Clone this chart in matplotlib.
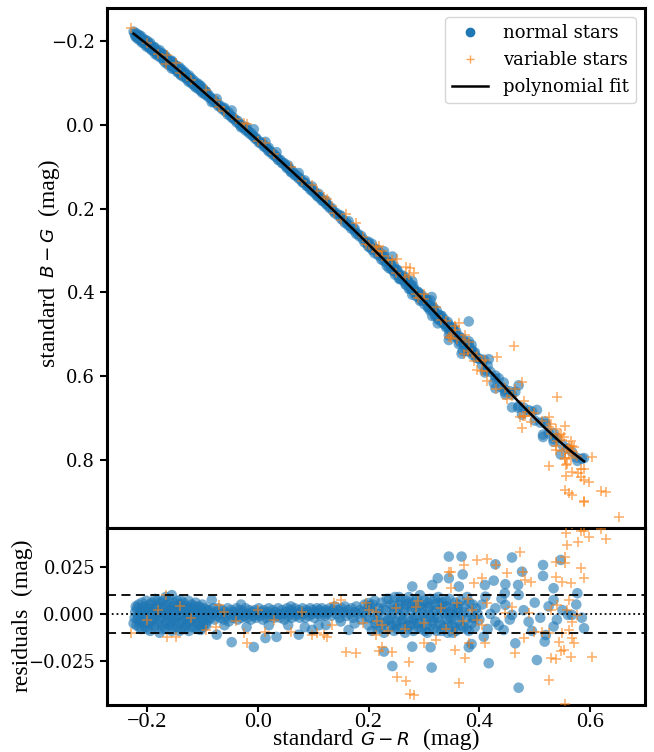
import numpy as np
import matplotlib
matplotlib.use("Agg")
import matplotlib.pyplot as plt
from matplotlib.lines import Line2D

# ---------------- data ----------------
# points (G-R, B-G)
fit_gr = [-0.224, -0.182, -0.128, -0.085, -0.037, -0.010, 0.044, 0.104, 0.164, 0.197,
          0.261, 0.321, 0.381, 0.411, 0.471, 0.526, 0.550, 0.568, 0.589]
fit_bg = [-0.215, -0.179, -0.115, -0.060, -0.004, 0.028, 0.084, 0.155, 0.235, 0.291,
          0.370, 0.449, 0.529, 0.577, 0.660, 0.728, 0.768, 0.788, 0.796]
fit_degree = 5

# normal stars: G-R (mmag) and residual B-G minus fit (mmag), by region
blue_a1_gr = [-224, -222, -221, -219, -218, -216, -215, -213, -212, -210,
              -209, -207, -206, -204, -203, -201, -200, -198, -197, -195,
              -194, -192, -191, -189, -188, -186, -185, -183, -182, -180,
              -179, -177, -176, -174, -173, -171, -170, -168, -167, -166,
              -164, -163, -161, -160, -158, -157, -155, -154, -152, -151,
              -149, -148, -146, -145, -143, -142, -140, -139, -137, -136,
              -134, -133, -131, -130, -128, -127, -125, -124, -122, -121,
              -119, -118, -116, -115, -113, -112, -110, -109, -107, -106,
              -104, -103, -101, -100, -98, -97, -95, -94, -92, -91,
              -89]
blue_a1_res = [-5, -2, 1, -6, 3, -1, 5, -4, 2, -8,
               6, 0, -3, 4, -7, 7, -1, 2, -5, 5,
               -9, 0, 6, -3, 3, -7, 8, -1, 4, -5,
               1, -10, 6, -2, 3, -6, 7, 0, -8, 9,
               -3, 5, -1, 8, -6, 2, -9, 4, -2, 6,
               -4, 1, -7, 7, -1, 3, -5, 5, -8, 0,
               6, -3, 2, -6, 4, -1, 7, -9, 1, -4,
               5, -2, 3, -7, 0, 6, -5, 2, -3, 4,
               -6, 1, -2, 5, -4, 0, 3, -5, -1, 2,
               -3]
blue_a2_gr = [-220, -217, -214, -211, -208, -205, -202, -199, -196, -193,
              -190, -187, -184, -181, -178, -175, -172, -169, -165, -162,
              -159, -156, -153, -150, -147, -144, -141, -138, -135, -132,
              -129, -126, -123, -120, -117, -114, -111, -108, -105, -102,
              -99, -96, -93]
blue_a2_res = [4, -3, -7, 0, 3, -5, 1, -8, 3, -4,
               2, -6, 0, 7, -3, 1, -8, 4, -5, 0,
               3, -4, -7, 2, -2, 5, -9, 3, -4, -8,
               1, -4, 3, -7, 0, 4, -2, -8, 0, 3,
               -7, 1, -6]
blue_b_gr = [-87, -85, -82, -80, -78, -75, -73, -71, -68, -66,
             -64, -61, -59, -57, -54, -52, -50, -47, -45, -43,
             -40, -38, -36, -33, -31, -29, -26, -24, -22, -19,
             -17, -15, -12, -10, -8, -5, -3, -1, 2, 4,
             6, 9, 11, 13, 16, 18, 20, 23, 25, 27,
             30, 32, 34, 37, 39, 41, 44, 46, 48, 51,
             53, 55, 58, 60, 62, 65, 67, 69, 72, 74,
             76, 79, 81, 83, 86, 88, 90, 93, 95, 97,
             100, 102, 104, 107, 109, 111, 114, 116, 118, 121,
             123, 125]
blue_b_res = [2, -2, 0, 3, -3, 1, -1, 3, -2, 0,
              2, -3, 1, -1, 3, -4, 0, 2, -2, 1,
              -1, 3, -3, 0, 2, -2, 1, -1, 3, -2,
              0, 2, -3, 1, -1, 2, -2, 0, 3, -1,
              1, -3, 2, 0, -2, 1, 3, -1, 0, 2,
              -2, 1, -1, 3, 0, -2, 2, 0, -3, 1,
              3, -1, 0, 2, -2, 1, 3, -1, 0, 2,
              -2, 1, 3, 0, -2, 2, 1, -1, 3, 0,
              2, -2, 1, 3, 0, 2, -1, 3, 1, -1,
              2, 0]
blue_b_out_gr = [-155, -139, -83, -74, -47, -7, 14, 34, 74, 98,
                 123, -103, -60, -20, 20, 55, 85, 110, -30, 60]
blue_b_out_res = [10, 7.4, 7.4, -11, -15, -17.6, -12.8, -12.2, -11, -8.5,
                  -5.9, -8.5, -6, -7, -6, -6, -7, -6, 5, 4]
blue_c_gr = [127, 130, 133, 136, 139, 142, 145, 148, 151, 154,
             157, 160, 163, 166, 169, 172, 175, 178, 181, 184,
             187, 190, 193, 196, 199, 164, 200, 150, 175]
blue_c_res = [1, 3, -1, 2, 4, 0, 2, -2, 3, 1,
              4, -1, 2, 0, 3, -2, 1, 4, 0, 2,
              -3, 1, 5, -1, 3, -8.5, 5.8, -4, -5]
blue_d1_gr = [200, 203, 206, 208, 211, 213, 216, 218, 221, 223,
              226, 228, 231, 233, 236, 238, 241, 243, 246, 248,
              251, 253, 256, 258, 261, 263, 266, 268, 271, 273,
              276, 278, 281, 283, 286, 288, 291, 293, 296, 298,
              301, 303, 306, 308, 311, 313, 316, 318, 321, 323,
              326, 328, 331, 333, 336, 338, 341, 343, 346, 348,
              351, 353, 356, 358, 361, 363, 366, 368, 371, 373,
              376, 378, 381, 383, 386, 388, 391, 394]
blue_d1_res = [-6, 4, -9, 1, 7, -3, -8, 3, -1, 6,
               -5, -10, 2, 8, -3, -7, 5, 0, -9, 9,
               -4, 3, -1, 7, -7, 1, -10, 5, -3, 9,
               -6, 2, -9, 6, -1, -5, 4, 10, -8, 0,
               7, -3, -10, 3, 8, -6, 1, -2, 5, -9,
               9, -4, 2, 6, -7, 0, 4, -10, 8, -2,
               -6, 3, 6, -9, 1, -4, 7, -1, -7, 4,
               -3, 9, -9, 1, -5, 5, -2, 3]
blue_d2_gr = [202, 207, 212, 217, 222, 227, 232, 237, 242, 247,
              252, 257, 262, 267, 272, 277, 282, 287, 292, 297,
              302, 307, 312, 317, 322, 327, 332, 337, 342, 347,
              352, 357, 362, 367, 372, 377, 382, 387, 392, 397]
blue_d2_res = [-2, 5, -5, 0, -7, 3, -4, 8, -6, 2,
               -8, 5, -3, 7, -6, 4, -2, 8, -5, 3,
               -9, 6, -1, -8, 2, 6, -9, 4, -3, 1,
               -10, -1, 5, -6, 1, -8, 6, -2, -7, 0]
blue_d3_gr = [240, 245, 250, 255, 260, 265, 270, 275, 280, 285,
              290, 295, 300, 305, 310, 315, 320, 325, 330, 335,
              340, 345, 350, 355, 360]
blue_d3_res = [-2, 4, -6, 9, -4, 2, -8, 6, -3, 3,
               -7, 5, -1, -6, 4, -4, 8, -2, -6, 1,
               7, -5, 0, -7, 3]
blue_e_gr = [345, 368, 459, 429, 547, 515, 515, 325, 345, 370,
             477, 426, 410, 447, 470, 534, 577, 279, 315, 363,
             411, 446, 471, 534, 567, 560, 589, 534, 520, 518,
             504, 471, 417, 314, 243, 228, 279, 312, 381, 386,
             408, 465, 444, 489, 429, 459, 429, 447, 400, 405,
             415, 420, 435, 440, 455, 480, 495, 500, 510, 525,
             540, 550, 575, 585, 381]
blue_e_res = [30.5, 30.5, 30, 26.4, 28.7, 26, 20.2, 19, 19, 21,
              22.5, 17.7, 15.4, 15.8, 15.4, 13.7, 11, 14.6, 15.4, 14.6,
              9.2, 11, 10.1, 7.4, -0.5, -0.5, -7.6, -6.7, -11.2, -14.7,
              -24.5, -39.2, -26.2, -28.5, -27.7, -20, -17.4, -17.7, -17.7, -16,
              -12.1, -15.6, -8.5, -4.1, -4.1, -0.5, 3, 4.8, -3, 5,
              -8, 0, -6, 8, -3, 2, -9, 6, -2, 4,
              -3, 2, 5, -2, -65]

# variable stars: G-R (mmag) and residual (mmag)
orange_a_gr = [-228, -164, -148, -94, -76, -70, -25, -20, 14, 61,
               98, 107, 125, 137, 150, 159, 177, -166, 134, 120,
               -200, -180, -140, -120, -60, -40, 0, 30, 80, 190,
               195, 200, 215]
orange_a_res = [-10, -12, -12.2, -8.5, -7, 5, -10, -15.4, -9.6, -9.6,
                -11, -10, -12.2, 5.8, 7.4, -20.2, -20.7, 10, -6, -11,
                -3, 2, 4, -2, 1, -4, 2, -3, 1, -5,
                6, 2, -4]
orange_b_gr = [474, 396, 414, 431, 372, 479, 483, 494, 405, 390,
               348, 348, 450, 538, 550, 565, 589, 583, 538, 554,
               555, 559, 578, 589, 540, 562, 559, 577, 568, 529,
               447, 489, 414, 459, 396, 405, 513, 525, 498, 550,
               562, 567, 544, 571, 553, 547, 530, 539, 565, 604,
               525, 464, 480, 411, 381, 356, 374, 363, 273, 252,
               268, 274, 243, 219, 225, 213, 300, 321, 357, 345,
               285, 387, 283, 213, 225, 235, 250, 265, 290, 300,
               330, 340, 360, 370, 380]
orange_b_res = [33.1, 28.7, 29, 26, 26, 22.5, 18, 16.9, 19, 16.3,
                22.5, 13.7, 21.6, 19.8, 17.2, 16.3, 19, 24.3, 27.8, 30.5,
                27, 36.7, 38.5, 44.1, 4.8, 7.4, 2.1, -0.5, -4.1, 2.1,
                0.4, 0.4, 5.7, 3.6, -3.2, -5.9, -9.4, -10, -9.4, -10.3,
                -8.5, -12.9, -14.7, -15.6, -19.1, -19.5, -23.6, -23.9, -22.7, -23,
                -35.1, -20.9, -12.9, -15.6, -15.6, -19.1, -23.2, -36.5, -25.3, -33.7,
                -35.5, -42.6, -20, -19.7, -17.4, -11.2, -15.6, -13.8, -10.3, 22.5,
                3.6, 2.1, -43, 1, -6, -9, 3, -8, 7, -5,
                3, -8, 6, -4, 8]
orange_c_gr = [432, 477, 477, 540, 554, 526, 556, 568, 583, 598,
               556, 619, 629, 554, 562, 568, 589, 589, 652, 462]
orange_c_res = [-52, -56, 55, -100, -48, 81, 43, 48, 44, 41,
                70, 45, 40, 106, 104, 102, 96, 98, 85, -121]

x_ticks = [-0.2, 0.0, 0.2, 0.4, 0.6]
top_y_ticks = [-0.2, 0.0, 0.2, 0.4, 0.6, 0.8]
res_y_ticks = [-0.025, 0.0, 0.025]
res_band = 0.01

xlabel_parts = ['standard', r'$G-R$', '(mag)']
top_ylabel_parts = ['standard', r'$B-G$', '(mag)']
res_ylabel_parts = ['residuals', '(mag)']

# ---------------- assemble ----------------
coeffs = np.polyfit(fit_gr, fit_bg, fit_degree)
line_gr = np.linspace(fit_gr[0], fit_gr[-1], 300)
line_bg = np.polyval(coeffs, line_gr)

n_gr = np.concatenate([blue_a1_gr, blue_a2_gr, blue_b_gr, blue_b_out_gr, blue_c_gr,
                       blue_d1_gr, blue_d2_gr, blue_d3_gr, blue_e_gr]) / 1000.0
n_res = np.concatenate([blue_a1_res, blue_a2_res, blue_b_res, blue_b_out_res, blue_c_res,
                        blue_d1_res, blue_d2_res, blue_d3_res, blue_e_res]) / 1000.0
v_gr = np.concatenate([orange_a_gr, orange_b_gr, orange_c_gr]) / 1000.0
v_res = np.concatenate([orange_a_res, orange_b_res, orange_c_res]) / 1000.0
n_bg = np.polyval(coeffs, n_gr) + n_res
v_bg = np.polyval(coeffs, v_gr) + v_res

blue = '#1f77b4'
orange = '#ff7f0e'
label_font = 'Liberation Serif'
tick_font = 'DejaVu Serif'
W, H = 654, 752

fig = plt.figure(figsize=(6.54, 7.52), dpi=100)
ax1 = fig.add_axes([0.1636, 0.2979, 0.8226, 0.6915])
ax2 = fig.add_axes([0.1636, 0.0625, 0.8226, 0.2354], sharex=ax1)

ms_blue = 58
ms_orange = 45
ax1.scatter(n_gr, n_bg, s=ms_blue, color=blue, alpha=0.6, edgecolors='none', zorder=2)
ax1.scatter(v_gr, v_bg, s=ms_orange, color=orange, alpha=0.6, marker='+', linewidths=1.2, zorder=3)
ax1.plot(line_gr, line_bg, color='black', lw=1.8, zorder=4)

ax2.scatter(n_gr, n_res, s=ms_blue, color=blue, alpha=0.6, edgecolors='none', zorder=2)
ax2.scatter(v_gr, v_res, s=ms_orange, color=orange, alpha=0.6, marker='+', linewidths=1.2, zorder=3)
ax2.axhline(res_band, color='black', ls='--', lw=1.3, dashes=(5, 3), zorder=4)
ax2.axhline(-res_band, color='black', ls='--', lw=1.3, dashes=(5, 3), zorder=4)
ax2.axhline(0.0, color='black', ls=':', lw=1.3, zorder=4)

ax1.set_xlim(-0.272, 0.699)
ax1.set_ylim(0.962, -0.279)
ax2.set_ylim(-0.0484, 0.0457)

ax1.set_yticks(top_y_ticks)
ax1.set_yticklabels([f"{t:.1f}".replace('-', '\u2212') for t in top_y_ticks], fontfamily=tick_font, fontsize=13)
ax2.set_yticks(res_y_ticks)
ax2.set_yticklabels([f"{t:.3f}".replace('-', '\u2212') for t in res_y_ticks], fontfamily=tick_font, fontsize=13)
ax2.set_xticks(x_ticks)
ax2.set_xticklabels([f"{t:.1f}".replace('-', '\u2212') for t in x_ticks], fontfamily=label_font, fontsize=16)

ax1.tick_params(axis='x', bottom=False, labelbottom=False)
for ax in (ax1, ax2):
    ax.tick_params(direction='out', length=5, width=1.5)
    for sp in ax.spines.values():
        sp.set_linewidth(2.2)
ax2.tick_params(axis='x', pad=1)

handles = [Line2D([], [], ls='', marker='o', color=blue, markersize=6),
           Line2D([], [], ls='', marker='+', color=orange, alpha=0.7, markersize=6, markeredgewidth=1.0),
           Line2D([], [], color='black', lw=1.8)]
ax1.legend(handles, ['normal stars', 'variable stars', 'polynomial fit'], loc='upper right',
           prop={'family': tick_font, 'size': 13}, framealpha=0.8, edgecolor='0.8',
           borderpad=0.4, labelspacing=0.5, handlelength=2.0)


# axis labels: serif words with a slightly smaller mathtext part
def compound_label(parts, center_px, baseline_px, vertical, text_size=17, math_size=13.2):
    renderer = fig.canvas.get_renderer()
    sizes = [math_size if p.startswith('$') else text_size for p in parts]
    widths = []
    for p, sz in zip(parts, sizes):
        t = fig.text(0, 0, p, fontsize=sz, fontfamily=label_font)
        widths.append(t.get_window_extent(renderer).width)
        t.remove()
    gaps = []
    for i in range(len(parts) - 1):
        gaps.append(0.3 * text_size * 100 / 72 if not parts[i + 1].startswith('(') else 0.55 * text_size * 100 / 72)
    total = sum(widths) + sum(gaps)
    pos = center_px - total / 2.0
    for i, (p, sz) in enumerate(zip(parts, sizes)):
        if vertical:
            fig.text(baseline_px / W, 1 - pos / H if False else pos / H, p, fontsize=sz, fontfamily=label_font,
                     rotation=90, rotation_mode='anchor', ha='left', va='baseline')
        else:
            fig.text(pos / W, baseline_px / H, p, fontsize=sz, fontfamily=label_font,
                     ha='left', va='baseline')
        pos += widths[i] + (gaps[i] if i < len(gaps) else 0)


# x label: centered under the axes, baseline ~7 px above the bottom edge
compound_label(xlabel_parts, 376, 7, vertical=False)
# top y label: centered on the top panel, baseline at x ~ 54 px
compound_label(top_ylabel_parts, H - 262, 54, vertical=True)
# residual y label
compound_label(res_ylabel_parts, H - 615, 27, vertical=True)

fig.savefig('out.png', dpi=100)
